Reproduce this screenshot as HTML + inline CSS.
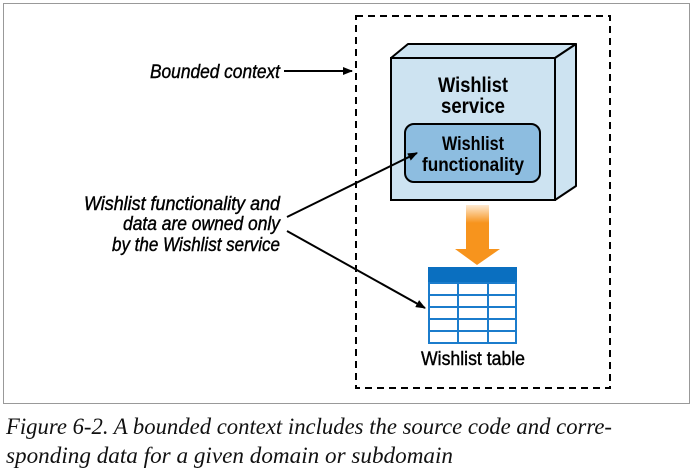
<!DOCTYPE html>
<html><head><meta charset="utf-8"><style>
html,body{margin:0;padding:0;background:#fff;width:693px;height:470px;overflow:hidden}
</style></head><body>
<svg width="693" height="470" viewBox="0 0 693 470" xmlns="http://www.w3.org/2000/svg">
<defs>
<marker id="ah" markerWidth="10" markerHeight="8" refX="9" refY="4" orient="auto" markerUnits="userSpaceOnUse">
<path d="M0,0 L10,4 L0,8 z" fill="#000"/></marker>
<linearGradient id="og" x1="0" y1="0" x2="0" y2="1">
<stop offset="0" stop-color="#f7941d" stop-opacity="0.2"/><stop offset="0.4" stop-color="#f7941d"/></linearGradient>
</defs>
<rect x="3.5" y="3.5" width="686" height="400" fill="none" stroke="#999" stroke-width="1"/>
<rect x="356" y="16" width="254" height="372" fill="none" stroke="#000" stroke-width="2" stroke-dasharray="7,5"/>
<polygon points="391,58 408,44 576,44 555,58" fill="#cde3f1" stroke="#000" stroke-width="2" stroke-linejoin="round"/>
<polygon points="555,58 576,44 576,186 555,200" fill="#cde3f1" stroke="#000" stroke-width="2" stroke-linejoin="round"/>
<rect x="391" y="58" width="164" height="142" fill="#cde3f1" stroke="#000" stroke-width="2"/>
<text x="473" y="92" font-family="Liberation Sans,sans-serif" font-weight="bold" font-size="21" text-anchor="middle" textLength="70" lengthAdjust="spacingAndGlyphs">Wishlist</text>
<text x="473" y="113" font-family="Liberation Sans,sans-serif" font-weight="bold" font-size="21" text-anchor="middle" textLength="64" lengthAdjust="spacingAndGlyphs">service</text>
<rect x="405" y="124" width="135" height="58" rx="9" fill="#8dbde0" stroke="#000" stroke-width="2"/>
<text x="473" y="150" font-family="Liberation Sans,sans-serif" font-weight="bold" font-size="19" text-anchor="middle" textLength="62" lengthAdjust="spacingAndGlyphs">Wishlist</text>
<text x="473" y="171" font-family="Liberation Sans,sans-serif" font-weight="bold" font-size="19" text-anchor="middle" textLength="102" lengthAdjust="spacingAndGlyphs">functionality</text>
<rect x="466" y="205" width="23" height="45" fill="url(#og)"/>
<polygon points="455,249 500,249 477,265" fill="#f7941d"/>
<rect x="428" y="267" width="89" height="16" fill="#0a6fc0"/>
<rect x="429" y="283" width="87" height="60" fill="#fff" stroke="#1b7ccc" stroke-width="2"/>
<g stroke="#1b7ccc" stroke-width="2">
<line x1="429" y1="295" x2="516" y2="295"/><line x1="429" y1="307" x2="516" y2="307"/>
<line x1="429" y1="319" x2="516" y2="319"/><line x1="429" y1="331" x2="516" y2="331"/>
<line x1="458" y1="283" x2="458" y2="343"/><line x1="488" y1="283" x2="488" y2="343"/>
</g>
<text x="473" y="365" font-family="Liberation Sans,sans-serif" font-size="19" stroke="#000" stroke-width="0.4" text-anchor="middle" textLength="104" lengthAdjust="spacingAndGlyphs">Wishlist table</text>
<g font-family="Liberation Sans,sans-serif" font-style="italic" font-size="19" stroke="#000" stroke-width="0.4" text-anchor="end">
<text x="280" y="78" textLength="130" lengthAdjust="spacingAndGlyphs">Bounded context</text>
<text x="280" y="210" textLength="196" lengthAdjust="spacingAndGlyphs">Wishlist functionality and</text>
<text x="280" y="230" textLength="157" lengthAdjust="spacingAndGlyphs">data are owned only</text>
<text x="280" y="251" textLength="168" lengthAdjust="spacingAndGlyphs">by the Wishlist service</text>
</g>
<g stroke="#000" stroke-width="2" fill="none">
<line x1="284" y1="71" x2="352" y2="71" marker-end="url(#ah)"/>
<line x1="287" y1="217" x2="417" y2="153" marker-end="url(#ah)"/>
<line x1="287" y1="231" x2="425" y2="308" marker-end="url(#ah)"/>
</g>
<g font-family="Liberation Serif,serif" font-style="italic" font-size="23" fill="#111">
<text x="6" y="434" textLength="606" lengthAdjust="spacingAndGlyphs">Figure 6-2. A bounded context includes the source code and corre-</text>
<text x="6" y="463" textLength="447" lengthAdjust="spacingAndGlyphs">sponding data for a given domain or subdomain</text>
</g>
</svg>
</body></html>
